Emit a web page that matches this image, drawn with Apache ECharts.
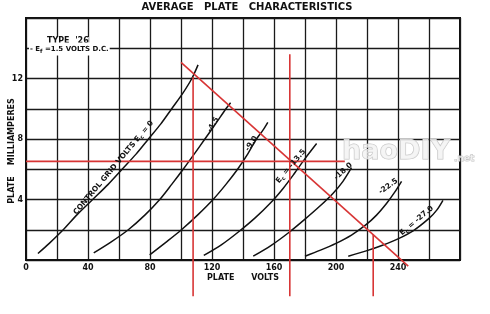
<!DOCTYPE html>
<html><head><meta charset="utf-8">
<script src="https://cdn.jsdelivr.net/npm/echarts@6/dist/echarts.min.js"></script>
<style>html,body{margin:0;padding:0;background:#fff}#c{width:490px;height:314px}</style>
</head><body><div id="c"></div>
<script>
// ---- data (plate volts, plate milliamperes) ----
const xTickLabels = [0, 40, 80, 120, 160, 200, 240];
const yTickLabels = [4, 8, 12];
const gridVolts = ['0', '-4.5', '-9.0', '-13.5', '-18.0', '-22.5', '-27.0'];
const curveEc0   = [[7.7,0.43],[15,1.1],[24,2],[33,3],[43,4],[53,5],[62,6],[71,7],[79,8],[87,9],[94,10],[101,11],[107,12],[111,12.9]];
const curveEc4_5 = [[43.7,0.47],[55,1.2],[66,2],[77,3],[86.3,4],[94,5],[101.4,6],[108.5,7],[115.4,8],[122.3,9],[129,10],[132,10.4]];
const curveEc9   = [[79.8,0.34],[90,1.15],[100.3,2],[111,3],[120.7,4],[129,5],[136.5,6],[143,7],[148.7,8],[153,8.6],[156,9.1]];
const curveEc13_5= [[114.7,0.3],[126,1.0],[137,1.85],[148,2.8],[158,3.8],[166,4.75],[173,5.7],[180,6.7],[187.5,7.7]];
const curveEc18  = [[146.6,0.25],[158,0.95],[170,1.85],[180,2.7],[190,3.6],[198,4.4],[204.5,5.2],[210,6.1]];
const curveEc22_5= [[180,0.25],[190,0.65],[200,1.1],[210,1.65],[219,2.3],[226,2.95],[232.7,3.75],[238,4.5],[242.3,5.2]];
const curveEc27  = [[207.9,0.25],[220,0.62],[230,0.98],[240,1.4],[250,1.95],[260,2.75],[265,3.3],[269,3.95]];
const loadLine   = [[100,13.06],[246.6,-0.41]];
const redHoriz   = [[0,6.52],[205.7,6.52]];
const redVert1   = [[107.8,12.1],[107.8,-2.4]];
const redVert2   = [[170.2,13.6],[170.2,-2.4]];
const redVert3   = [[224,1.68],[224,-2.4]];

const curves = [curveEc0, curveEc4_5, curveEc9, curveEc13_5, curveEc18, curveEc22_5, curveEc27];
const curveLabelTexts = ['CONTROL GRID VOLTS E{s|c} = ' + gridVolts[0], gridVolts[1], gridVolts[2],
  'E{s|c} = ' + gridVolts[3], gridVolts[4], gridVolts[5], 'E{s|c} = ' + gridVolts[6]];
// label anchors (data space) and angles
const labelAnchors = [[56.5,6.1],[120.7,8.94],[145.5,7.7],[170.9,6.2],[204.7,5.86],[233.7,4.87],[252,2.6]];
const labelAngles = [50, 60, 56, 50, 42, 36, 40];

const FONT = '"DejaVu Sans", sans-serif';
const chart = echarts.init(document.getElementById('c'), null, {renderer: 'canvas'});

const series = curves.map(c => ({
  type: 'line', data: c, smooth: 0.3, showSymbol: false, symbol: 'none',
  lineStyle: {color: '#111', width: 1.5}, z: 3, silent: true
}));
[loadLine, redHoriz, redVert1, redVert2, redVert3].forEach(d => series.push({
  type: 'line', data: d, showSymbol: false, symbol: 'none', clip: false,
  lineStyle: {color: '#d83535', width: 1.6}, z: 5, silent: true
}));

const option = {
  animation: false,
  backgroundColor: '#fff',
  grid: {left: 26, right: 30, top: 18, bottom: 54, show: true, borderColor: '#111', borderWidth: 2, backgroundColor: 'transparent'},
  xAxis: {
    type: 'value', min: 0, max: 280, interval: 20,
    axisLine: {show: true, lineStyle: {color: '#111', width: 2}},
    axisTick: {show: false},
    axisLabel: {margin: 4, color: '#111', fontFamily: FONT, fontSize: 8, fontWeight: 'bold',
      formatter: v => xTickLabels.includes(v) ? String(v) : ''},
    splitLine: {show: true, lineStyle: {color: '#1a1a1a', width: 1.3}}
  },
  yAxis: {
    type: 'value', min: 0, max: 16, interval: 2,
    axisLine: {show: true, lineStyle: {color: '#111', width: 2}},
    axisTick: {show: false},
    axisLabel: {margin: 3, color: '#111', fontFamily: FONT, fontSize: 8, fontWeight: 'bold',
      formatter: v => yTickLabels.includes(v) ? String(v) : ''},
    splitLine: {show: true, lineStyle: {color: '#1a1a1a', width: 1.3}}
  },
  series: series
};
chart.setOption(option);

const rich = {s: {fontSize: 5.5, fontWeight: 'bold', fontFamily: FONT, verticalAlign: 'bottom', padding: [5, 0, 0, 0]}};
const graphics = labelAnchors.map((p, i) => {
  const px = chart.convertToPixel({gridIndex: 0}, p);
  return {type: 'text', x: px[0], y: px[1], rotation: labelAngles[i] * Math.PI / 180, z: 10,
    style: {text: curveLabelTexts[i], rich: rich, fontFamily: FONT, fontSize: 7.5, fontWeight: 'bold',
      fill: '#111', align: 'center', verticalAlign: 'middle'}};
});
graphics.push(
  {type: 'text', x: 247, y: 7, z: 10, style: {text: 'AVERAGE   PLATE   CHARACTERISTICS', fontFamily: FONT,
    fontSize: 10, fontWeight: 'bold', fill: '#111', align: 'center', verticalAlign: 'middle'}},
  {type: 'text', x: 47, y: 41, z: 10, style: {text: "TYPE  '26", fontFamily: FONT, fontSize: 8,
    fontWeight: 'bold', fill: '#111', align: 'left', verticalAlign: 'middle', backgroundColor: '#fff'}},
  {type: 'text', x: 29, y: 49, z: 10, style: {text: '- E{s|f} =1.5 VOLTS D.C.', rich: rich, fontFamily: FONT, fontSize: 7,
    fontWeight: 'bold', fill: '#111', align: 'left', verticalAlign: 'middle', backgroundColor: '#fff', padding: [1, 1]}},
  {type: 'text', x: 12, y: 151, z: 10, rotation: Math.PI / 2, style: {text: 'PLATE    MILLIAMPERES', fontFamily: FONT,
    fontSize: 8, fontWeight: 'bold', fill: '#111', align: 'center', verticalAlign: 'middle'}},
  {type: 'text', x: 243, y: 278, z: 10, style: {text: 'PLATE      VOLTS', fontFamily: FONT,
    fontSize: 8, fontWeight: 'bold', fill: '#111', align: 'center', verticalAlign: 'middle'}},
  {type: 'text', x: 342, y: 152, z: 8, style: {text: 'haoDIY', fontFamily: FONT, fontSize: 27, fontWeight: 'bold',
    fill: 'rgba(242,242,242,0.75)', stroke: '#c2c2c2', lineWidth: 1, align: 'left', verticalAlign: 'middle'}},
  {type: 'text', x: 454, y: 159, z: 8, style: {text: '.net', fontFamily: FONT, fontSize: 9, fontWeight: 'bold',
    fill: 'rgba(242,242,242,0.75)', stroke: '#c2c2c2', lineWidth: 0.8, align: 'left', verticalAlign: 'middle'}}
);
chart.setOption({graphic: graphics});
</script>
</body></html>
